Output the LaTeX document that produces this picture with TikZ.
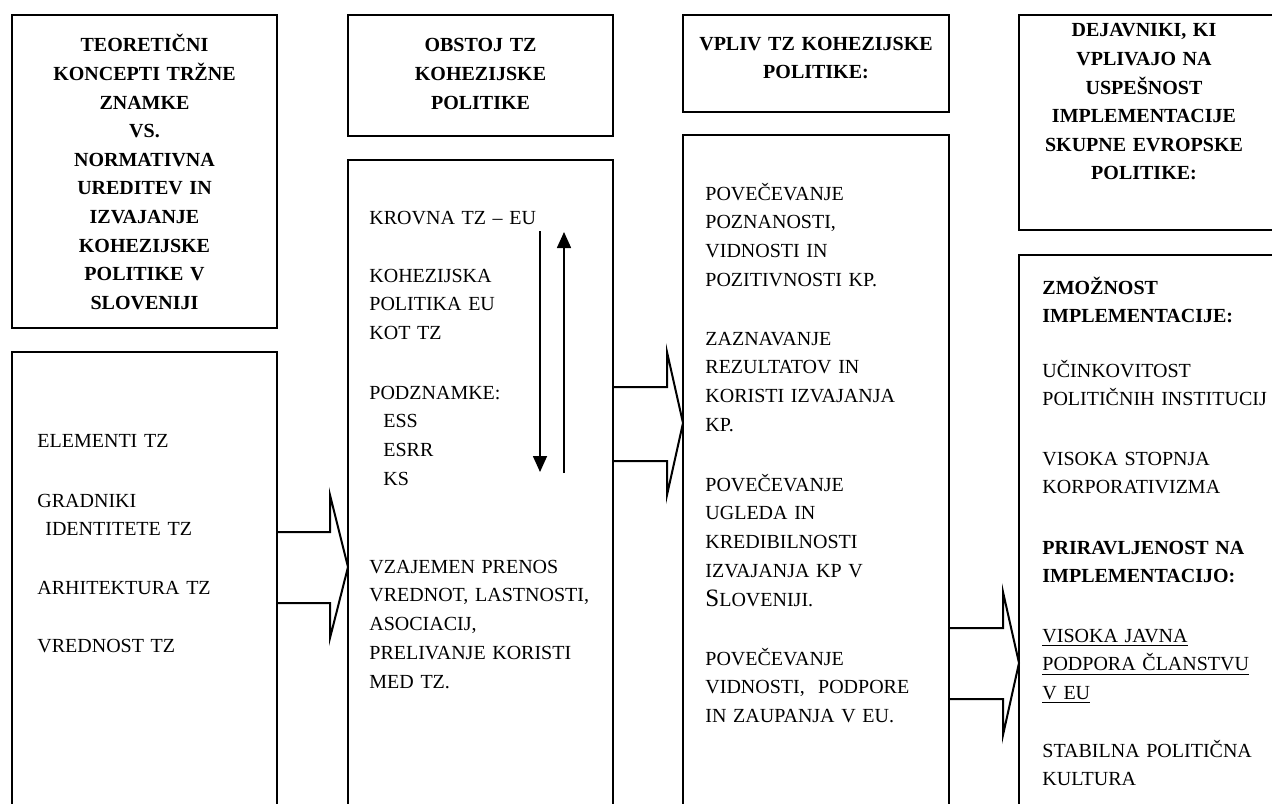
\documentclass[tikz,border=0pt]{standalone}
\usepackage{fontspec}
\setmainfont{Liberation Serif}
\usetikzlibrary{arrows.meta,calc}
\begin{document}
\begin{tikzpicture}[x=0.5pt,y=-0.5pt,
  every node/.style={font=\fontsize{10}{14.4}\selectfont},
  hdrbox/.style={draw,line width=1pt,rectangle,inner sep=0pt,outer sep=0pt,anchor=north west},
  bodybox/.style={draw,line width=1.4pt,rectangle,inner sep=0pt,outer sep=0pt,anchor=north west},
  htext/.style={font=\fontsize{10}{14.3}\selectfont\bfseries,align=center,text width=125pt,inner sep=0pt},
  btext/.style={align=left,text width=130pt,inner sep=0pt,anchor=base west},
  fatarrow/.style={line width=1pt,line join=miter},
  thinarrow/.style={line width=0.8pt,-{Triangle[length=8pt,width=7pt]}}]
\useasboundingbox (0,0) rectangle (1272,803);
\clip (0,0) rectangle (1272,803);

% boxes
\node[hdrbox,minimum width=132.5pt,minimum height=156.5pt] (b1head) at (12,15) {};
\node[bodybox,minimum width=132.5pt,minimum height=239pt] (b1body) at (12,352) {};
\node[hdrbox,minimum width=132.5pt,minimum height=60.5pt] (b2head) at (348,15) {};
\node[bodybox,minimum width=132.5pt,minimum height=335pt] (b2body) at (348,160) {};
\node[hdrbox,minimum width=133pt,minimum height=48.5pt] (b3head) at (683,15) {};
\node[bodybox,minimum width=133pt,minimum height=347.5pt] (b3body) at (683,135) {};
\node[hdrbox,minimum width=135.5pt,minimum height=107.5pt] (b4head) at (1019,15) {};
\node[bodybox,minimum width=135.5pt,minimum height=287.5pt] (b4body) at (1019,255) {};

% headers
\node[htext] (h1) at (144.5,172) {TEORETIČNI\\KONCEPTI TRŽNE\\ZNAMKE\\VS.\\NORMATIVNA\\UREDITEV IN\\IZVAJANJE\\KOHEZIJSKE\\POLITIKE V\\SLOVENIJI};
\node[htext] (h2) at (480.5,74) {OBSTOJ TZ\\KOHEZIJSKE\\POLITIKE};
\node[htext] (h3) at (816,58) {VPLIV TZ KOHEZIJSKE\\POLITIKE:};
\node[htext] (h4) at (1144,102) {DEJAVNIKI, KI\\VPLIVAJO NA\\USPEŠNOST\\IMPLEMENTACIJE\\SKUPNE EVROPSKE\\POLITIKE:};

% body 1
\node[btext] (t11) at (37,447) {ELEMENTI TZ};
\node[btext] (t12) at (37,507) {GRADNIKI\\\hspace*{4pt}IDENTITETE TZ};
\node[btext] (t13) at (37,594) {ARHITEKTURA TZ};
\node[btext] (t14) at (37,652) {VREDNOST TZ};

% body 2
\node[btext] (t21) at (369,224) {KROVNA TZ – EU};
\node[btext] (t22) at (369,282) {KOHEZIJSKA\\POLITIKA EU\\KOT TZ};
\node[btext] (t23) at (369,399) {PODZNAMKE:\\\hspace*{7pt}ESS\\\hspace*{7pt}ESRR\\\hspace*{7pt}KS};
\node[btext] (t24) at (369,573) {VZAJEMEN PRENOS\\VREDNOT, LASTNOSTI,\\ASOCIACIJ,\\PRELIVANJE KORISTI\\MED TZ.};

% body 3
\node[btext] (t31) at (705,200) {POVEČEVANJE\\POZNANOSTI,\\VIDNOSTI IN\\POZITIVNOSTI KP.};
\node[btext] (t32) at (705,345) {ZAZNAVANJE\\REZULTATOV IN\\KORISTI IZVAJANJA\\KP.};
\node[btext] (t33) at (705,491) {POVEČEVANJE\\UGLEDA IN\\KREDIBILNOSTI\\IZVAJANJA KP V\\{\fontsize{12.5}{14.4}\selectfont S}LOVENIJI.};
\node[btext] (t34) at (705,665) {POVEČEVANJE\\VIDNOSTI,\ \ PODPORE\\IN ZAUPANJA V EU.};

% body 4
\node[btext,font=\fontsize{10}{14.4}\selectfont\bfseries] (t41) at (1042,294) {ZMOŽNOST\\IMPLEMENTACIJE:};
\node[btext] (t42) at (1042,377) {UČINKOVITOST\\POLITIČNIH INSTITUCIJ};
\node[btext] (t43) at (1042,465) {VISOKA STOPNJA\\KORPORATIVIZMA};
\node[btext,font=\fontsize{10}{14.4}\selectfont\bfseries] (t44) at (1042,554) {PRIRAVLJENOST NA\\IMPLEMENTACIJO:};
\node[btext] (t45) at (1042,642) {\underline{VISOKA JAVNA}\\\underline{PODPORA ČLANSTVU}\\\underline{V EU}};
\node[btext] (t46) at (1042,757) {STABILNA POLITIČNA\\KULTURA};

% fat arrows
\draw[fatarrow] ($(b1body.north east)+(0,180)$) -- ($(b1body.north east)+(53,180)$)
  -- ($(b1body.north east)+(53,143)$) -- ($(b2body.north west)+(0,407)$)
  -- ($(b1body.north east)+(53,286)$) -- ($(b1body.north east)+(53,251)$)
  -- ($(b1body.north east)+(0,251)$);
\draw[fatarrow] ($(b2body.north east)+(0,227)$) -- ($(b2body.north east)+(54,227)$)
  -- ($(b2body.north east)+(54,192)$) -- ($(b3body.north west)+(0,288)$)
  -- ($(b2body.north east)+(54,335)$) -- ($(b2body.north east)+(54,301)$)
  -- ($(b2body.north east)+(0,301)$);
\draw[fatarrow] ($(b3body.north east)+(0,493)$) -- ($(b3body.north east)+(54,493)$)
  -- ($(b3body.north east)+(54,457)$) -- ($(b4body.north west)+(0,408)$)
  -- ($(b3body.north east)+(54,600)$) -- ($(b3body.north east)+(54,564)$)
  -- ($(b3body.north east)+(0,564)$);

% thin arrows inside box 2
\coordinate (dstart) at ($(b2body.north west)+(192,71)$);
\coordinate (dend) at ($(b2body.north west)+(192,312)$);
\coordinate (ustart) at ($(b2body.north west)+(216,313)$);
\coordinate (uend) at ($(b2body.north west)+(216,72)$);
\draw[thinarrow] (dstart) -- (dend);
\draw[thinarrow] (ustart) -- (uend);
\end{tikzpicture}
\end{document}
